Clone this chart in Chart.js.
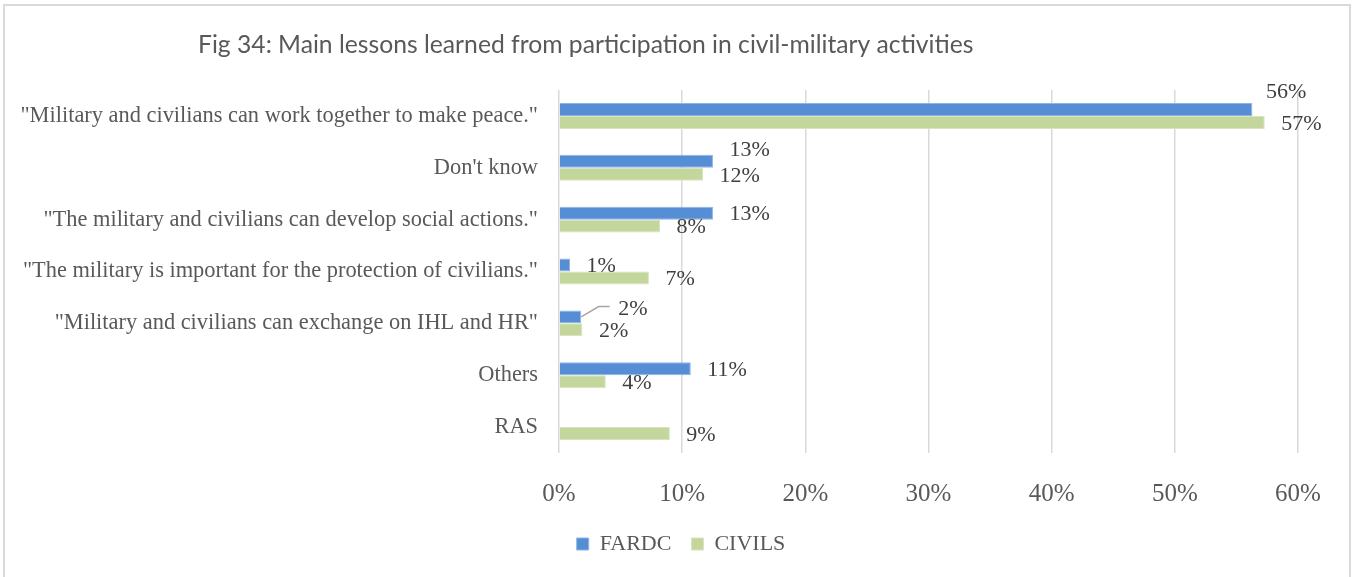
<!DOCTYPE html>
<html>
<head>
<meta charset="utf-8">
<title>Fig 34</title>
<script src="https://cdn.jsdelivr.net/npm/chart.js@4.4.0/dist/chart.umd.min.js"></script>
<style>
  html, body { margin: 0; padding: 0; background: #fff; }
  #wrap { position: relative; width: 1352px; height: 577px; overflow: hidden; }
  #frame { position: absolute; left: 3px; top: 4px; width: 1348px; height: 620px;
           border: 2px solid #d9d9d9; box-sizing: border-box; }
  #chart_lessons { position: absolute; left: 0; top: 0; }
</style>
</head>
<body>
<div id="wrap">
  <div id="frame"></div>
  <canvas id="chart_lessons" width="1352" height="577"></canvas>
</div>
<script>
// Fig 34 - main lessons learned from civil-military activities

var chartTitle = 'Fig 34: Main lessons learned from participation in civil-military activities';

var categories = [
  '"Military and civilians can work together to make peace."',
  "Don't know",
  '"The military and civilians can develop social actions."',
  '"The military is important for the protection of civilians."',
  '"Military and civilians can exchange on IHL and HR"',
  'Others',
  'RAS'
];

var seriesNames = ['FARDC', 'CIVILS'];

// percentages
var fardcValues  = [56.3, 12.5, 12.5, 0.9, 1.8, 10.7, null];
var civilsValues = [57.3, 11.7, 8.2, 7.3, 1.9, 3.8, 9.0];

var tickLabels = ['0%', '10%', '20%', '30%', '40%', '50%', '60%'];

var serif = '"Liberation Serif", "Times New Roman", serif';

// moved labels (same as in the original figure)
var labelNudge = [
  { 0: { dx: -3, dy: -18.8 }, 1: { dx: 0, dy: -12.5 }, 4: { dx: 20.5, dy: -9.5, leader: true } },
  {}
];

var titlePlugin = {
  id: 'figTitle',
  afterDraw: function(chart) {
    var ctx = chart.ctx;
    ctx.save();
    ctx.font = '24.7px Lato';
    ctx.fillStyle = '#595959';
    ctx.textBaseline = 'alphabetic';
    ctx.textAlign = 'left';
    ctx.fillText(chartTitle, 198, 53);
    ctx.restore();
  }
};

var barLabelPlugin = {
  id: 'barLabels',
  afterDatasetsDraw: function(chart) {
    var ctx = chart.ctx;
    ctx.save();
    ctx.font = '22px ' + serif;
    ctx.fillStyle = '#404040';
    ctx.textBaseline = 'middle';
    ctx.textAlign = 'left';
    chart.data.datasets.forEach(function(ds, di) {
      var meta = chart.getDatasetMeta(di);
      meta.data.forEach(function(bar, i) {
        var v = ds.data[i];
        if (v === null) return;
        var n = labelNudge[di][i] || { dx: 0, dy: 0 };
        var x = bar.x + 16.5 + n.dx;
        var y = bar.y + 1.5 + n.dy;
        if (n.leader) {
          ctx.strokeStyle = '#a6a6a6';
          ctx.lineWidth = 1.5;
          ctx.beginPath();
          ctx.moveTo(bar.x, bar.y);
          ctx.lineTo(bar.x + 17.5, bar.y - 10.3);
          ctx.lineTo(bar.x + 28.5, bar.y - 10.3);
          ctx.stroke();
        }
        ctx.fillText(Math.round(v) + '%', x, y);
      });
    });
    ctx.restore();
  }
};

var ctx = document.getElementById('chart_lessons').getContext('2d');
var chartLessons = new Chart(ctx, {
  type: 'bar',
  data: {
    labels: categories,
    datasets: [{
      label: seriesNames[0],
      data: fardcValues,
      backgroundColor: '#558ED5',
      borderColor: '#8EB4E3',
      borderWidth: 1,
      categoryPercentage: 0.5,
      barPercentage: 1.0
    }, {
      label: seriesNames[1],
      data: civilsValues,
      backgroundColor: '#C3D69B',
      borderColor: '#D7E4BD',
      borderWidth: 1,
      categoryPercentage: 0.5,
      barPercentage: 1.0
    }]
  },
  options: {
    indexAxis: 'y',
    responsive: false,
    animation: false,
    devicePixelRatio: 1,
    layout: { padding: { left: 10, right: 0, top: 90, bottom: 12 } },
    scales: {
      x: {
        min: 0,
        max: 60,
        ticks: {
          stepSize: 10,
          padding: 26,
          color: '#595959',
          font: { family: serif, size: 25 },
          callback: function(value, index) { return tickLabels[index]; }
        },
        grid: { color: '#D9D9D9', lineWidth: 1.5, drawTicks: false },
        border: { display: false },
        afterFit: function(scale) {
          scale.height = 60;
          scale.paddingRight = 54;
        }
      },
      y: {
        ticks: {
          padding: 21,
          color: '#595959',
          font: { family: serif, size: 22.4 }
        },
        grid: { display: false, drawTicks: false },
        border: { display: false },
        afterFit: function(scale) { scale.width = 559 - 10; }
      }
    },
    plugins: {
      title: { display: false },
      tooltip: { enabled: false },
      legend: {
        position: 'bottom',
        labels: {
          boxWidth: 12,
          boxHeight: 12,
          padding: 20,
          color: '#595959',
          font: { family: serif, size: 22 }
        }
      }
    }
  },
  plugins: [titlePlugin, barLabelPlugin]
});
</script>
</body>
</html>
